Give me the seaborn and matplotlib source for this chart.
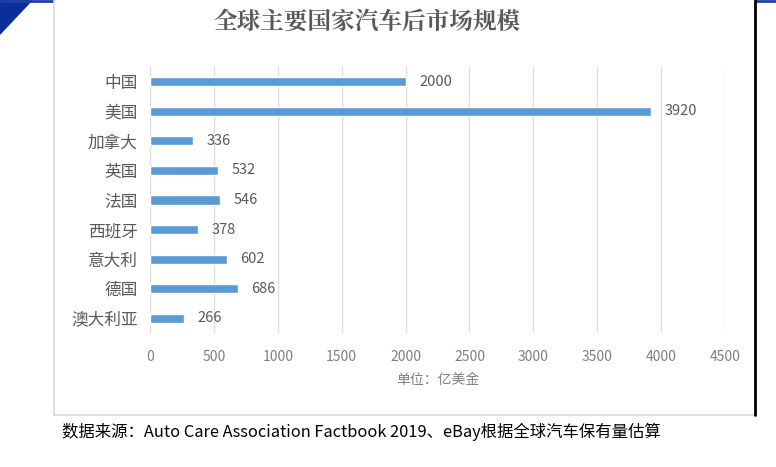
import matplotlib
matplotlib.use("Agg")
import matplotlib.pyplot as plt
import seaborn as sns
import pandas as pd
from matplotlib.patches import Polygon
from matplotlib.lines import Line2D

countries = ["中国", "美国", "加拿大", "英国", "法国", "西班牙", "意大利", "德国", "澳大利亚"]
values = [2000, 3920, 336, 532, 546, 378, 602, 686, 266]
xticks = [0, 500, 1000, 1500, 2000, 2500, 3000, 3500, 4000, 4500]
title = "全球主要国家汽车后市场规模"
xlabel = "单位：亿美金"
source = "数据来源：Auto Care Association Factbook 2019、eBay根据全球汽车保有量估算"

sns.set_theme(style="white")
plt.rcParams["font.family"] = ["Noto Sans CJK SC", "DejaVu Sans"]

df = pd.DataFrame({"country": countries, "value": values})

fig = plt.figure(figsize=(7.76, 4.67), dpi=100)
W, H = 776, 467
ax = fig.add_axes([150 / W, 1 - 333 / H, (725 - 150) / W, (333 - 67) / H])

sns.barplot(data=df, y="country", x="value", orient="h", color="#5B9BD5",
            saturation=1, width=0.31, ax=ax)
ax.set_xlim(0, 4500)
ax.set_ylim(8.5, -0.5)
ax.set_xticks(xticks)
ax.set_xticklabels([str(t) for t in xticks], fontsize=10, color="#7F7F7F")
ax.tick_params(axis="x", length=0, pad=12)
ax.tick_params(axis="y", length=0, pad=9, labelsize=12, labelcolor="#595959")
ax.set_ylabel("")
ax.set_xlabel(xlabel, fontsize=10, color="#7F7F7F", style="italic", labelpad=7)
ax.grid(axis="x", color="#DEDEDE", linewidth=1)
ax.set_axisbelow(True)
for s in ax.spines.values():
    s.set_visible(False)

for i, v in enumerate(values):
    ax.text(v + 105, i, str(v), va="center", ha="left", fontsize=10.5, color="#595959")

fig.text(367 / W, 1 - 23 / H, title, ha="center", va="center", fontsize=17,
         color="#595959", family=["Noto Serif CJK SC", "Noto Sans CJK SC", "DejaVu Sans"],
         weight="bold")

fig.text(62 / W, 1 - 432 / H, source, ha="left", va="center", fontsize=11.8, color="#000000")

# decorative frame
fig.patches.append(Polygon([[0, 1], [33 / W, 1], [0, 1 - 35 / H]], closed=True,
                           transform=fig.transFigure, facecolor="#0A2E9C", edgecolor="none"))
fig.lines.append(Line2D([0, 53 / W], [1 - 1 / H, 1 - 1 / H], transform=fig.transFigure,
                        color="#1F3FA8", linewidth=2))
fig.lines.append(Line2D([756 / W, 1], [1 - 1 / H, 1 - 1 / H], transform=fig.transFigure,
                        color="#1F3FA8", linewidth=2))
fig.lines.append(Line2D([54 / W, 54 / W], [1, 1 - 415 / H], transform=fig.transFigure,
                        color="#D9D9D9", linewidth=1.2))
fig.lines.append(Line2D([54 / W, 754 / W], [1 - 415 / H, 1 - 415 / H], transform=fig.transFigure,
                        color="#D9D9D9", linewidth=1.2))
fig.lines.append(Line2D([754.5 / W, 754.5 / W], [1, 1 - 415 / H], transform=fig.transFigure,
                        color="#000000", linewidth=2))

fig.savefig("out.png", dpi=100)
